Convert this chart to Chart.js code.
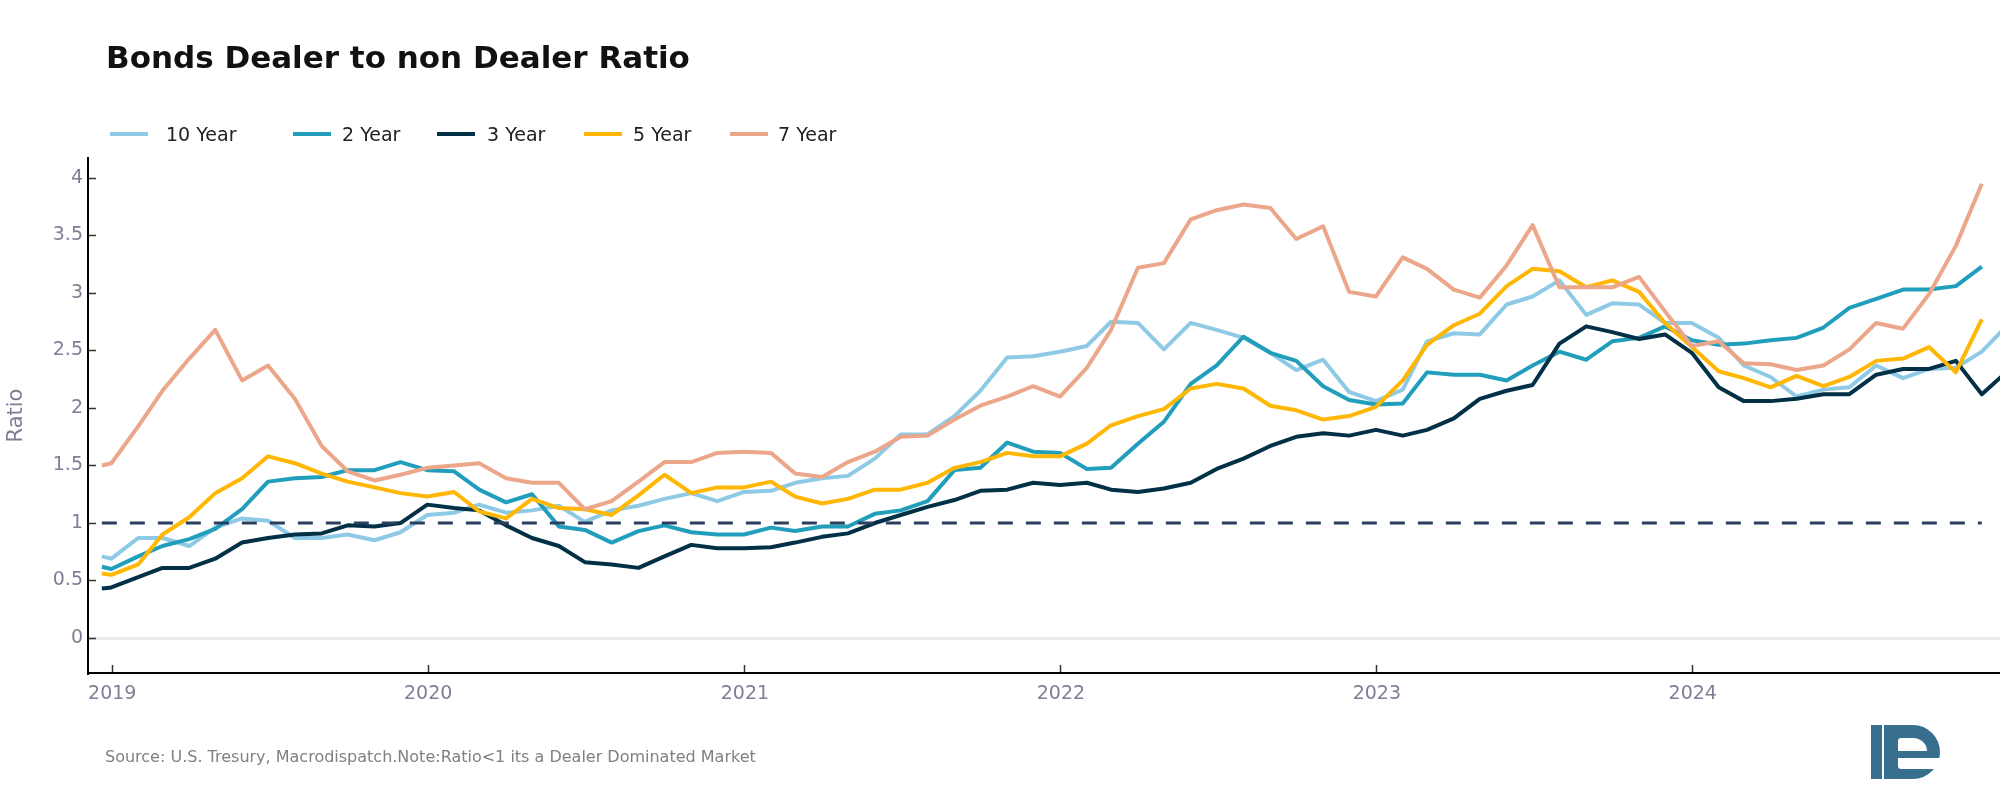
<!DOCTYPE html>
<html>
<head>
<meta charset="utf-8">
<script src="https://cdn.jsdelivr.net/npm/chart.js@4.4.1/dist/chart.umd.min.js"></script>
<style>
    body { margin: 0; background: #fff; font-family: "DejaVu Sans", Verdana, sans-serif; }
    #wrap { position: relative; width: 2000px; height: 788px; overflow: hidden; background: #fff; }
    #c { position: absolute; left: 0; top: 0; }
    .title { position: absolute; left: 106px; top: 42px; font-size: 31px; line-height: 1; font-weight: bold; color: #111; white-space: nowrap; }
    .leg-line { position: absolute; top: 132px; width: 38px; height: 4px; }
    .leg-text { position: absolute; top: 125px; font-size: 19px; line-height: 1; color: #222; white-space: nowrap; }
    .note { position: absolute; left: 105px; top: 749px; font-size: 16px; line-height: 1; color: #808080; white-space: nowrap; }
    .logo { position: absolute; left: 1860px; top: 715px; }
</style>
</head>
<body>
<div id="wrap">
    <canvas id="c" width="2000" height="788"></canvas>
    <div class="title">Bonds Dealer to non Dealer Ratio</div>
    <div id="legend"></div>
    <div class="note">Source: U.S. Tresury, Macrodispatch.Note:Ratio&lt;1 its a Dealer Dominated Market</div>
    <svg class="logo" width="95" height="73" viewBox="1860 715 95 73">
        <rect x="1871" y="725" width="11" height="54" fill="#386f8f"/>
        <path d="M1884,725 H1913 A27,27 0 0 1 1913,779 H1884 Z" fill="#386f8f"/>
        <path d="M1898,751 V741 Q1898,738 1901,738 H1913 A14,13 0 0 1 1927,751 Z" fill="#fff"/>
        <path d="M1898,758 H1942 V769 H1901 Q1898,769 1898,766 Z" fill="#fff"/>
    </svg>
</div>
<script>
// month-end observations (first one is a mid-December reading)
const dates = [
    '2018-12-20', '2018-12-31',
    '2019-01-31', '2019-02-28', '2019-03-31', '2019-04-30', '2019-05-31', '2019-06-30',
    '2019-07-31', '2019-08-31', '2019-09-30', '2019-10-31', '2019-11-30', '2019-12-31',
    '2020-01-31', '2020-02-29', '2020-03-31', '2020-04-30', '2020-05-31', '2020-06-30',
    '2020-07-31', '2020-08-31', '2020-09-30', '2020-10-31', '2020-11-30', '2020-12-31',
    '2021-01-31', '2021-02-28', '2021-03-31', '2021-04-30', '2021-05-31', '2021-06-30',
    '2021-07-31', '2021-08-31', '2021-09-30', '2021-10-31', '2021-11-30', '2021-12-31',
    '2022-01-31', '2022-02-28', '2022-03-31', '2022-04-30', '2022-05-31', '2022-06-30',
    '2022-07-31', '2022-08-31', '2022-09-30', '2022-10-31', '2022-11-30', '2022-12-31',
    '2023-01-31', '2023-02-28', '2023-03-31', '2023-04-30', '2023-05-31', '2023-06-30',
    '2023-07-31', '2023-08-31', '2023-09-30', '2023-10-31', '2023-11-30', '2023-12-31',
    '2024-01-31', '2024-02-29', '2024-03-31', '2024-04-30', '2024-05-31', '2024-06-30',
    '2024-07-31', '2024-08-31', '2024-09-30', '2024-10-31', '2024-11-30', '2024-12-31'
];

const y10 = [0.71, 0.69,
    0.87, 0.87, 0.80, 0.96, 1.04, 1.02, 0.87, 0.87, 0.90, 0.85, 0.92, 1.07,
    1.09, 1.16, 1.09, 1.11, 1.15, 1.01, 1.11, 1.15, 1.21, 1.26, 1.19, 1.27,
    1.28, 1.35, 1.39, 1.41, 1.56, 1.77, 1.77, 1.93, 2.15, 2.44, 2.45, 2.49,
    2.54, 2.75, 2.74, 2.51, 2.74, 2.68, 2.61, 2.48, 2.33, 2.42, 2.14, 2.06,
    2.16, 2.58, 2.65, 2.64, 2.90, 2.97, 3.11, 2.81, 2.91, 2.90, 2.74, 2.74,
    2.61, 2.37, 2.27, 2.10, 2.16, 2.18, 2.37, 2.26, 2.34, 2.35, 2.49, 2.73];
const y2 = [0.62, 0.60,
    0.71, 0.80, 0.86, 0.95, 1.12, 1.36, 1.39, 1.40, 1.46, 1.46, 1.53, 1.46,
    1.45, 1.29, 1.18, 1.25, 0.97, 0.94, 0.83, 0.93, 0.98, 0.92, 0.90, 0.90,
    0.96, 0.93, 0.97, 0.97, 1.08, 1.11, 1.19, 1.46, 1.48, 1.70, 1.62, 1.61,
    1.47, 1.48, 1.69, 1.88, 2.21, 2.37, 2.62, 2.48, 2.41, 2.19, 2.07, 2.03,
    2.04, 2.31, 2.29, 2.29, 2.24, 2.37, 2.49, 2.42, 2.58, 2.61, 2.71, 2.59,
    2.55, 2.56, 2.59, 2.61, 2.70, 2.87, 2.95, 3.03, 3.03, 3.06, 3.23, null];
const y3 = [0.43, 0.44,
    0.53, 0.61, 0.61, 0.69, 0.83, 0.87, 0.90, 0.91, 0.98, 0.97, 1.00, 1.16,
    1.13, 1.11, 0.98, 0.87, 0.80, 0.66, 0.64, 0.61, 0.71, 0.81, 0.78, 0.78,
    0.79, 0.83, 0.88, 0.91, 1.00, 1.07, 1.14, 1.20, 1.28, 1.29, 1.35, 1.33,
    1.35, 1.29, 1.27, 1.30, 1.35, 1.47, 1.56, 1.67, 1.75, 1.78, 1.76, 1.81,
    1.76, 1.81, 1.91, 2.08, 2.15, 2.20, 2.56, 2.71, 2.66, 2.60, 2.64, 2.48,
    2.18, 2.06, 2.06, 2.08, 2.12, 2.12, 2.29, 2.34, 2.34, 2.41, 2.12, 2.33];
const y5 = [0.56, 0.55,
    0.64, 0.90, 1.05, 1.26, 1.39, 1.58, 1.52, 1.43, 1.36, 1.31, 1.26, 1.23,
    1.27, 1.10, 1.04, 1.21, 1.13, 1.12, 1.07, 1.24, 1.42, 1.26, 1.31, 1.31,
    1.36, 1.23, 1.17, 1.21, 1.29, 1.29, 1.35, 1.48, 1.53, 1.61, 1.58, 1.58,
    1.69, 1.85, 1.93, 1.99, 2.17, 2.21, 2.17, 2.02, 1.98, 1.90, 1.93, 2.01,
    2.24, 2.55, 2.72, 2.82, 3.06, 3.21, 3.19, 3.05, 3.11, 3.01, 2.74, 2.53,
    2.32, 2.26, 2.18, 2.28, 2.19, 2.27, 2.41, 2.43, 2.53, 2.31, 2.77, null];
const y7 = [1.50, 1.52,
    1.84, 2.15, 2.43, 2.68, 2.24, 2.37, 2.08, 1.67, 1.45, 1.37, 1.42, 1.48,
    1.50, 1.52, 1.39, 1.35, 1.35, 1.12, 1.19, 1.36, 1.53, 1.53, 1.61, 1.62,
    1.61, 1.43, 1.40, 1.53, 1.62, 1.75, 1.76, 1.90, 2.02, 2.10, 2.19, 2.10,
    2.35, 2.68, 3.22, 3.26, 3.64, 3.72, 3.77, 3.74, 3.47, 3.58, 3.01, 2.97,
    3.31, 3.21, 3.03, 2.96, 3.24, 3.59, 3.05, 3.05, 3.05, 3.14, 2.84, 2.54,
    2.58, 2.39, 2.38, 2.33, 2.37, 2.51, 2.74, 2.69, 2.99, 3.41, 3.95, null];

const seriesNames = ['10 Year', '2 Year', '3 Year', '5 Year', '7 Year'];
const seriesColors = ['#8ecae6', '#219ebc', '#023047', '#ffb703', '#eca68a'];
const yTicks = [0, 0.5, 1, 1.5, 2, 2.5, 3, 3.5, 4];
const xTickYears = [2019, 2020, 2021, 2022, 2023, 2024];
const refLevel = 1;
const refDates = ['2018-12-20', '2024-11-30'];

const DAY = 86400000;
const toDays = s => Date.parse(s + 'T00:00:00Z') / DAY;
const pts = arr => dates.map((d, i) => ({ x: toDays(d), y: arr[i] }));

const legendEl = document.getElementById('legend');
const legLineX = [110, 293, 437, 584, 730];
const legTextX = [166, 342, 487, 633, 778];
seriesNames.forEach((n, i) => {
    legendEl.innerHTML += `<div class="leg-line" style="left:${legLineX[i]}px;background:${seriesColors[i]}"></div>
    <div class="leg-text" style="left:${legTextX[i]}px">${n}</div>`;
});

const allSeries = [y10, y2, y3, y5, y7];
const datasets = allSeries.map((s, i) => ({
    label: seriesNames[i],
    data: pts(s),
    borderColor: seriesColors[i],
    backgroundColor: seriesColors[i],
    borderWidth: 4,
    pointRadius: 0,
    tension: 0,
    borderJoinStyle: 'round',
    order: 5 - i
}));
datasets.push({
    label: 'ref',
    data: refDates.map(d => ({ x: toDays(d), y: refLevel })),
    borderColor: '#2a3f5f',
    borderWidth: 3,
    borderDash: [15, 13],
    pointRadius: 0,
    order: 0
});

const tickFont = { family: 'DejaVu Sans', size: 19 };
const axisGray = '#7d7f96';

new Chart(document.getElementById('c'), {
    type: 'line',
    data: { datasets },
    options: {
        responsive: false,
        devicePixelRatio: 1,
        animation: false,
        layout: { padding: { top: 158, left: 0, right: 0, bottom: 0 } },
        plugins: { legend: { display: false }, title: { display: false }, tooltip: { enabled: false } },
        scales: {
            x: {
                type: 'linear',
                min: toDays('2018-12-04'),
                max: toDays('2024-12-21'),
                afterFit: s => { s.height = 115; },
                afterBuildTicks: s => { s.ticks = xTickYears.map(y => ({ value: toDays(y + '-01-01') })); },
                ticks: {
                    font: tickFont, color: axisGray, padding: 18, maxRotation: 0, autoSkip: false,
                    callback: v => String(new Date(v * DAY).getUTCFullYear())
                },
                grid: { drawOnChartArea: false, drawTicks: true, tickLength: -8, tickColor: '#333', tickWidth: 1.5 },
                border: { display: true, color: '#000', width: 2 }
            },
            y: {
                min: -0.304,
                max: 4.174,
                afterFit: s => { s.width = 88; },
                afterBuildTicks: s => { s.ticks = yTicks.map(v => ({ value: v })); },
                ticks: { font: tickFont, color: axisGray, padding: 13, callback: v => String(v) },
                grid: {
                    drawTicks: true, tickLength: -8, tickColor: '#333', tickWidth: 1.5,
                    color: c => c.tick && c.tick.value === 0 ? '#ebebeb' : 'rgba(0,0,0,0)',
                    lineWidth: c => c.tick && c.tick.value === 0 ? 3 : 1
                },
                border: { display: true, color: '#000', width: 2 },
                title: { display: true, text: 'Ratio', color: axisGray, font: { family: 'DejaVu Sans', size: 21 }, padding: { top: 4, bottom: 0 } }
            }
        }
    }
});
</script>
</body>
</html>
